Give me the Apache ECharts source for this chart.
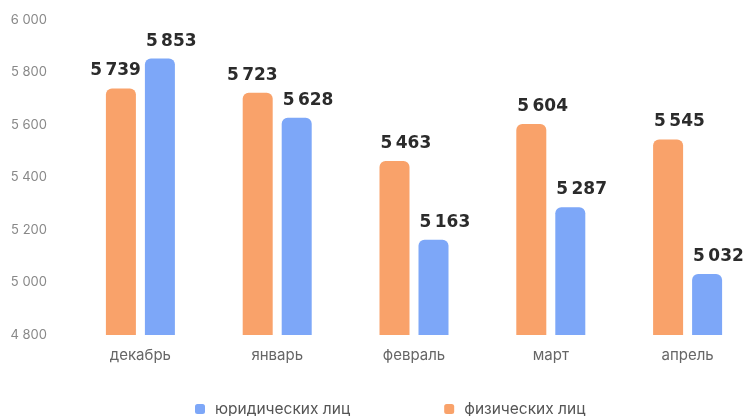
<!DOCTYPE html>
<html><head><meta charset="utf-8">
<script src="https://cdn.jsdelivr.net/npm/echarts@6/dist/echarts.min.js"></script>
<style>html,body{margin:0;padding:0;background:#fff}#c{width:756px;height:416px}</style>
</head><body><div id="c"></div>
<script>
const categories = ['декабрь','январь','февраль','март','апрель'];
const physical = [5739, 5723, 5463, 5604, 5545];
const legal = [5853, 5628, 5163, 5287, 5032];
const yTicks = [4800, 5000, 5200, 5400, 5600, 5800, 6000];
const nameLegal = 'юридических лиц';
const namePhysical = 'физических лиц';

const fmtSp = v => String(v).replace(/\B(?=(\d{3})+(?!\d))/g, ' ');
const fmtThin = v => String(v).replace(/\B(?=(\d{3})+(?!\d))/g, '\u2009');

const chart = echarts.init(document.getElementById('c'));
const baseLabel = {show:true, position:'top', distance:9, color:'#2b2b2b', fontFamily:'DejaVu Sans', fontWeight:'bold', fontSize:17, formatter: p => fmtThin(p.value)};
const leftAligned = Object.assign({}, baseLabel, {align:'left', offset:[-14,0]});
const rightAligned = {align:'right', offset:[20,0]};
const physicalData = physical.map((v, i) => Math.abs(v - legal[i]) < 150 ? {value:v, label:rightAligned} : v);
chart.setOption({
  animation:false,
  textStyle:{fontFamily:'Inter'},
  grid:{left:72, right:-6, top:20, bottom:81},
  legend:{data:[nameLegal, namePhysical], bottom:-6, left:190, itemWidth:10, itemHeight:10, itemGap:94, icon:'roundRect',
    textStyle:{color:'#555', fontSize:15.5, fontFamily:'Inter', padding:[0,0,0,5]}},
  xAxis:{type:'category', data:categories, axisLine:{show:false}, axisTick:{show:false},
    axisLabel:{color:'#666', fontSize:15, margin:13}},
  yAxis:{type:'value', min:yTicks[0], max:yTicks[yTicks.length-1], interval:200, splitLine:{show:false},
    axisLine:{show:false}, axisTick:{show:false},
    axisLabel:{color:'#888', fontSize:13, margin:25, formatter: v => fmtSp(v)}},
  series:[
    {name:namePhysical, type:'bar', data:physicalData, barWidth:30, barGap:'30%',
     itemStyle:{color:'#F9A26A', borderRadius:[6,6,0,0]}, label:leftAligned},
    {name:nameLegal, type:'bar', data:legal, barWidth:30,
     itemStyle:{color:'#7DA7F8', borderRadius:[6,6,0,0]}, label:leftAligned}
  ]
});
</script></body></html>
